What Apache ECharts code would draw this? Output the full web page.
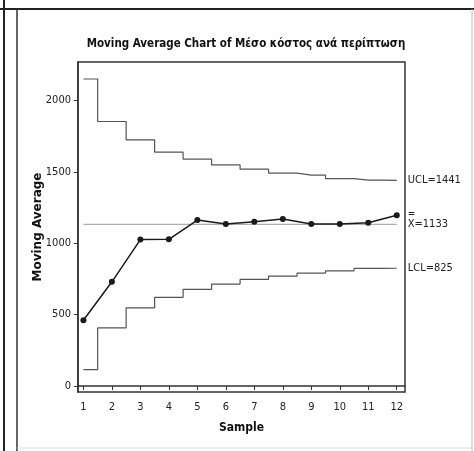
<!DOCTYPE html>
<html>
<head>
<meta charset="utf-8">
<script src="https://cdn.jsdelivr.net/npm/echarts@6/dist/echarts.min.js"></script>
<style>html,body{margin:0;padding:0;background:#fff;}#c{width:474px;height:451px;}</style>
</head>
<body>
<div id="c"></div>
<script>
const samples = [1, 2, 3, 4, 5, 6, 7, 8, 9, 10, 11, 12];
const movingAvg = [461, 730, 1026, 1028, 1163, 1135, 1151, 1170, 1135, 1135, 1144, 1196];
const ucl = [2151, 1853, 1725, 1638, 1589, 1549, 1519, 1491, 1477, 1453, 1442, 1441];
const lcl = [115, 407, 548, 621, 677, 714, 747, 770, 791, 807, 824, 825];
const centerValue = 1133;
const yTicks = [0, 500, 1000, 1500, 2000];
const uclLabel = 'UCL=1441';
const lclLabel = 'LCL=825';
const centerLabel = 'X=1133';
const titleText = 'Moving Average Chart of Μέσο κόστος ανά περίπτωση';

const narrow = '"DejaVu Sans Condensed", "Liberation Sans Narrow", "Liberation Sans", sans-serif';
const pair = (xs, ys) => xs.map((x, i) => [x, ys[i]]);

const chart = echarts.init(document.getElementById('c'), null, {renderer: 'canvas'});
chart.setOption({
  animation: false,
  backgroundColor: '#fff',
  title: {
    text: titleText, left: 241, top: 33, textAlign: 'center',
    textStyle: {fontFamily: narrow, fontWeight: 'bold', fontSize: 11.5, color: '#111'}
  },
  grid: {left: 78, top: 62, right: 69, bottom: 59, show: true, borderColor: '#333', borderWidth: 1.5, backgroundColor: '#fff'},
  xAxis: {
    type: 'value', min: 0.81, max: 12.29,
    name: 'Sample', nameLocation: 'middle', nameGap: 30, nameMoveOverlap: false,
    nameTextStyle: {fontFamily: narrow, fontWeight: 'bold', fontSize: 12, color: '#111'},
    axisLine: {show: true, lineStyle: {color: '#333', width: 1.5}},
    axisTick: {show: true, length: 4, customValues: samples, lineStyle: {color: '#333'}},
    axisLabel: {customValues: samples, margin: 10, fontFamily: narrow, fontSize: 11, color: '#222'},
    splitLine: {show: false}
  },
  yAxis: {
    type: 'value', min: -42, max: 2270,
    name: 'Moving Average', nameLocation: 'middle', nameGap: 34, nameRotate: 90, nameMoveOverlap: false,
    nameTextStyle: {fontFamily: '"DejaVu Sans", sans-serif', fontWeight: 'bold', fontSize: 12, color: '#111'},
    axisLine: {show: true, lineStyle: {color: '#333', width: 1.5}},
    axisTick: {show: true, length: 4, customValues: yTicks, lineStyle: {color: '#333'}},
    axisLabel: {customValues: yTicks, margin: 7, fontFamily: narrow, fontSize: 11, color: '#222', formatter: v => String(v)},
    splitLine: {show: false}
  },
  series: [
    {
      type: 'line', data: pair(samples, ucl), step: 'middle', symbol: 'none',
      lineStyle: {color: '#555', width: 1.2},
      endLabel: {show: true, formatter: uclLabel, distance: 11, fontFamily: narrow, fontSize: 11, color: '#222'}
    },
    {
      type: 'line', data: pair(samples, lcl), step: 'middle', symbol: 'none',
      lineStyle: {color: '#555', width: 1.2},
      endLabel: {show: true, formatter: lclLabel, distance: 11, fontFamily: narrow, fontSize: 11, color: '#222'}
    },
    {
      type: 'line', data: [[samples[0], centerValue], [samples[samples.length - 1], centerValue]], symbol: 'none',
      lineStyle: {color: '#999', width: 1},
      endLabel: {
        show: true, distance: 11, formatter: '{b|=}\n{t|' + centerLabel + '}',
        padding: [0, 0, 6, 0],
        rich: {
          b: {fontFamily: narrow, fontSize: 10, lineHeight: 6, color: '#222', align: 'left'},
          t: {fontFamily: narrow, fontSize: 11, lineHeight: 14, color: '#222', align: 'left'}
        }
      }
    },
    {
      type: 'line', data: pair(samples, movingAvg), symbol: 'circle', symbolSize: 6,
      lineStyle: {color: '#1a1a1a', width: 1.5},
      itemStyle: {color: '#1a1a1a'}, z: 5
    }
  ],
  graphic: [
    {type: 'line', shape: {x1: 0, y1: 9, x2: 474, y2: 9}, style: {stroke: '#222', lineWidth: 2}},
    {type: 'line', shape: {x1: 4, y1: 0, x2: 4, y2: 451}, style: {stroke: '#222', lineWidth: 2}},
    {type: 'line', shape: {x1: 17, y1: 9, x2: 17, y2: 451}, style: {stroke: '#333', lineWidth: 1.5}},
    {type: 'line', shape: {x1: 472, y1: 9, x2: 472, y2: 451}, style: {stroke: '#bbb', lineWidth: 1}},
    {type: 'line', shape: {x1: 17, y1: 448, x2: 472, y2: 448}, style: {stroke: '#ddd', lineWidth: 1}}
  ]
});
</script>
</body>
</html>
